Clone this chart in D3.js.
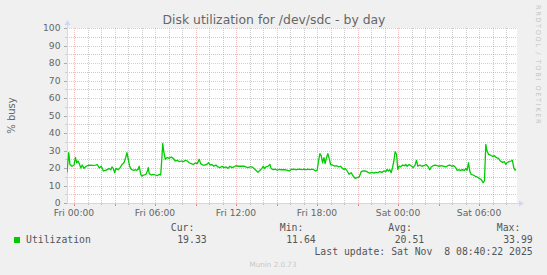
<!DOCTYPE html>
<html>
<head>
<meta charset="utf-8">
<script src="https://cdn.jsdelivr.net/npm/d3@7"></script>
<style>
  html, body { margin: 0; padding: 0; background: #f0f0f0; }
  svg { display: block; }
</style>
</head>
<body>
<svg id="chart"></svg>
<script>
// hours after Fri 00:00 (Fri 7 Nov 2025) and % busy
const hours = [-0.52,-0.39,-0.30,-0.15,0,0.10,0.20,0.30,0.39,0.50,0.61,0.74,0.89,1.11,1.35,1.61,1.72,1.87,2.02,2.17,
  2.32,2.46,2.61,2.72,2.81,2.91,3.01,3.11,3.26,3.40,3.55,3.70,3.83,3.92,4.02,4.12,4.24,4.39,4.54,4.64,4.74,4.83,4.94,
  5.03,5.18,5.33,5.43,5.50,5.57,5.72,5.87,6.02,6.17,6.31,6.42,6.51,6.57,6.66,6.76,6.91,7.05,7.20,7.35,
  7.50,7.65,7.79,7.94,8.09,8.24,8.39,8.53,8.68,8.83,8.98,9.13,9.27,9.38,9.53,9.67,9.82,9.97,10.07,10.21,10.36,10.51,
  10.66,10.81,10.95,11.10,11.25,11.40,11.55,11.70,11.84,11.99,12.14,12.29,12.44,12.58,12.73,12.88,13.03,13.18,13.32,13.47,
  13.62,13.77,13.92,14.01,14.12,14.21,14.36,14.51,14.60,14.75,14.90,15.05,15.20,15.34,15.49,15.64,15.79,15.94,16.08,
  16.28,16.43,16.58,16.73,16.88,17.02,17.17,17.32,17.47,17.62,17.76,17.91,18.01,18.11,18.21,18.31,18.41,18.51,18.60,18.70,
  18.80,18.90,19.00,19.15,19.30,19.45,19.59,19.74,19.84,19.99,20.08,20.23,20.38,20.53,20.67,20.82,20.97,21.12,21.27,21.41,21.56,21.71,
  21.76,21.91,22.06,22.21,22.35,22.50,22.65,22.80,22.95,23.09,23.19,23.29,23.39,23.49,23.59,23.69,23.78,23.89,23.98,24.08,
  24.18,24.33,24.48,24.57,24.67,24.82,24.97,25.12,25.26,25.37,25.46,25.61,25.76,25.91,26.06,26.20,26.35,26.45,26.60,26.74,
  26.89,27.04,27.19,27.34,
  27.54,27.68,27.83,27.98,28.13,28.28,28.37,28.48,28.62,28.77,28.92,29.02,29.11,29.22,29.31,29.41,29.56,29.70,29.85,30.00,
  30.15,30.30,30.40,30.50,30.59,30.70,30.84,30.99,31.14,31.29,31.44,31.58,31.73,31.88,31.98,32.07,32.22,32.37,32.47,32.57,32.67,32.72]

const busy = [17.5,28.8,22,21,21.7,26,23,24,22.5,20,21.7,19.8,21,21.7,21.5,21.7,22,20,21,18.3,
  18.7,19,19.8,18.9,20.6,19.8,17.3,19.8,19,20,22,23,26,28.8,25,21,19.2,18.7,19,18.7,19.2,21,16.4,
  15.4,16,16.4,18.3,20.2,16.8,16,16.4,16,15.6,16.4,16,26,33.99,28.8,25,26,25.5,26.3,25.5,
  24,24.4,23.6,24,23.6,24.4,24,23,22.5,22,22.9,22.5,25,22.5,21.7,21.7,22,23,21.7,22,21,21.7,
  20.6,20.2,21,20.2,20.6,19.8,21,20.2,20.6,21.3,21,21.1,21,21.1,20.6,20.2,20.6,20.6,19.8,18.7,
  17.5,18.7,19.8,21,19.8,20.6,21,22,19.8,19,19.4,18.7,19.2,19,19,19,18.7,18.3,19.2,
  19.4,19,19.2,19.4,19,19.4,19,19.4,19,19.4,19,18.3,18.7,24,28.2,26.9,23,25.9,22.5,25.9,
  28.2,25.5,22,21.7,21.1,21.3,20.6,21,20.2,19.2,19.8,18.3,16.4,17.3,15.4,14.1,14.5,14.9,17.9,18.3,18.3,17.9,
  17.5,17.1,17.5,17.1,17.5,17.3,17.9,17.5,18.3,17.9,19.2,18.3,19,17.3,20.2,24,29.3,27.8,19.2,21.1,
  20.6,21.7,21.3,22,21,22,21.3,20.2,21.7,24.4,21.1,21.7,21,21.3,22,21,19,20.6,21.3,21.7,
  21.3,21,21.3,21.1,
  20.6,21.3,21.7,21,21.3,20.2,18.7,19,18.7,19,18.7,19.8,18.7,23,18.3,16.4,16,15.4,14.9,14.1,
  13.5,11.64,12.6,33.5,29.7,27.8,27.4,26.7,27,25.9,25.5,24,23.2,23.6,22,23,23.6,24,24.4,20.2,18.7,19.33]

const yTicks = [0, 10, 20, 30, 40, 50, 60, 70, 80, 90, 100]
const statLabels = ['Cur:', 'Min:', 'Avg:', 'Max:']
const statValues = ['19.33', '11.64', '20.51', '33.99']

const w = 547
const h = 275
const padL = 67, padR = 517, padT = 28, padB = 203

const base = new Date(2025, 10, 7, 0, 0, 0)
const toDate = hr => new Date(base.getTime() + hr * 3600e3)

let svg = d3.select('#chart').attr('width', w).attr('height', h)

svg.append('rect').attr('width', w).attr('height', h).attr('fill', '#f0f0f0')
svg.append('rect')
  .attr('x', padL).attr('y', padT)
  .attr('width', padR - padL).attr('height', padB - padT)
  .attr('fill', '#ffffff')

let xScale = d3.scaleTime()
  .domain([toDate(-0.52), toDate(32.81)])
  .range([padL, padR])

let yScale = d3.scaleLinear()
  .domain([0, 100])
  .range([padB, padT])

const minorCol = 'rgba(150,150,150,0.5)'
const majorCol = 'rgba(225,110,110,0.42)'

// grid
let grid = svg.append('g')
let hourTicks = xScale.ticks(d3.timeHour.every(1))
hourTicks.forEach(t => {
  let major = t.getHours() % 3 === 0
  let x = Math.round(xScale(t)) + 0.5
  grid.append('line')
    .attr('x1', x).attr('x2', x).attr('y1', padT).attr('y2', padB)
    .attr('stroke', major ? majorCol : minorCol)
    .attr('stroke-dasharray', '1,1')
  grid.append('line')
    .attr('x1', x).attr('x2', x).attr('y1', padB).attr('y2', padB + (major ? 3 : 2))
    .attr('stroke', major ? 'rgba(225,90,90,0.7)' : '#bbbbbb')
})
d3.range(0, 101, 5).forEach(v => {
  let major = v % 10 === 0
  let y = Math.round(yScale(v)) + 0.5
  grid.append('line')
    .attr('x1', padL).attr('x2', padR).attr('y1', y).attr('y2', y)
    .attr('stroke', major ? majorCol : minorCol)
    .attr('stroke-dasharray', '1,1')
  grid.append('line')
    .attr('x1', padL - (major ? 3 : 2)).attr('x2', padL).attr('y1', y).attr('y2', y)
    .attr('stroke', major ? '#aaaaaa' : '#cccccc')
})

// axes
const axisCol = '#cfd6f8'
svg.append('line')
  .attr('x1', padL + 0.5).attr('x2', padL + 0.5).attr('y1', padB).attr('y2', padT - 4)
  .attr('stroke', axisCol)
svg.append('line')
  .attr('x1', padL).attr('x2', padR + 3).attr('y1', padB + 0.5).attr('y2', padB + 0.5)
  .attr('stroke', axisCol)
svg.append('path')
  .attr('d', `M${padL - 2.5},${padT - 3} L${padL + 0.5},${padT - 8} L${padL + 3.5},${padT - 3} Z`)
  .attr('fill', axisCol)
svg.append('path')
  .attr('d', `M${padR + 2},${padB - 2.5} L${padR + 7},${padB + 0.5} L${padR + 2},${padB + 3.5} Z`)
  .attr('fill', axisCol)

// tick labels
const labelFont = 'DejaVu Sans, sans-serif'
svg.selectAll('.ylab')
  .data(yTicks)
  .enter()
  .append('text')
  .attr('class', 'ylab')
  .attr('x', padL - 6.5)
  .attr('y', d => yScale(d) + 3.4)
  .attr('text-anchor', 'end')
  .attr('font-family', labelFont)
  .attr('font-size', 9.2)
  .attr('fill', '#666666')
  .text(d => d)

let fmt = d3.timeFormat('%a %H:%M')
svg.selectAll('.xlab')
  .data(xScale.ticks(d3.timeHour.every(6)))
  .enter()
  .append('text')
  .attr('class', 'xlab')
  .attr('x', d => xScale(d))
  .attr('y', 216)
  .attr('text-anchor', 'middle')
  .attr('font-family', labelFont)
  .attr('font-size', 9.2)
  .attr('fill', '#666666')
  .text(d => fmt(d))

// series
svg.append('clipPath').attr('id', 'clip')
  .append('rect').attr('x', padL).attr('y', padT).attr('width', padR - padL).attr('height', padB - padT)

let line = d3.line()
  .x((d, i) => xScale(toDate(hours[i])))
  .y(d => yScale(d))

svg.append('path')
  .datum(busy)
  .attr('clip-path', 'url(#clip)')
  .attr('d', line)
  .attr('fill', 'none')
  .attr('stroke', '#00cc00')
  .attr('stroke-width', 1.3)
  .attr('stroke-linejoin', 'round')

// titles
svg.append('text')
  .attr('x', 274).attr('y', 24)
  .attr('text-anchor', 'middle')
  .attr('font-family', labelFont)
  .attr('font-size', 12.4)
  .attr('fill', '#666666')
  .text('Disk utilization for /dev/sdc - by day')

svg.append('text')
  .attr('transform', `translate(15, ${(padT + padB) / 2}) rotate(-90)`)
  .attr('text-anchor', 'middle')
  .attr('font-family', labelFont)
  .attr('font-size', 10)
  .attr('fill', '#666666')
  .text('% busy')

svg.append('text')
  .attr('transform', 'translate(535.5, 5) rotate(90)')
  .attr('font-family', labelFont)
  .attr('font-size', 6.6)
  .style('letter-spacing', '1.6px')
  .attr('fill', '#c4c4c4')
  .text('RRDTOOL / TOBI OETIKER')

// legend
const mono = 'DejaVu Sans Mono, monospace'
svg.append('rect')
  .attr('x', 14).attr('y', 237).attr('width', 6).attr('height', 6)
  .attr('fill', '#00cc00')
svg.append('text')
  .attr('x', 26).attr('y', 243.3)
  .attr('font-family', mono).attr('font-size', 9.8).attr('fill', '#555555')
  .text('Utilization')

const colEnds = [206.7, 315.7, 424.2, 532.7]
svg.selectAll('.shead')
  .data(statLabels)
  .enter()
  .append('text')
  .attr('x', (d, i) => colEnds[i] - 12.3)
  .attr('y', 230.8)
  .attr('text-anchor', 'end')
  .attr('font-family', mono).attr('font-size', 9.8).attr('fill', '#555555')
  .text(d => d)
svg.selectAll('.sval')
  .data(statValues)
  .enter()
  .append('text')
  .attr('x', (d, i) => colEnds[i])
  .attr('y', 243.3)
  .attr('text-anchor', 'end')
  .attr('font-family', mono).attr('font-size', 9.8).attr('fill', '#555555')
  .text(d => d)

svg.append('text')
  .attr('x', 532.7).attr('y', 255.3)
  .attr('text-anchor', 'end')
  .attr('xml:space', 'preserve')
  .style('white-space', 'pre')
  .attr('font-family', mono).attr('font-size', 9.8).attr('fill', '#555555')
  .text('Last update: Sat Nov  8 08:40:22 2025')

svg.append('text')
  .attr('x', 273).attr('y', 266.5)
  .attr('text-anchor', 'middle')
  .attr('font-family', labelFont)
  .attr('font-size', 7.2)
  .attr('fill', '#c8c8c8')
  .text('Munin 2.0.73')
</script>
</body>
</html>
